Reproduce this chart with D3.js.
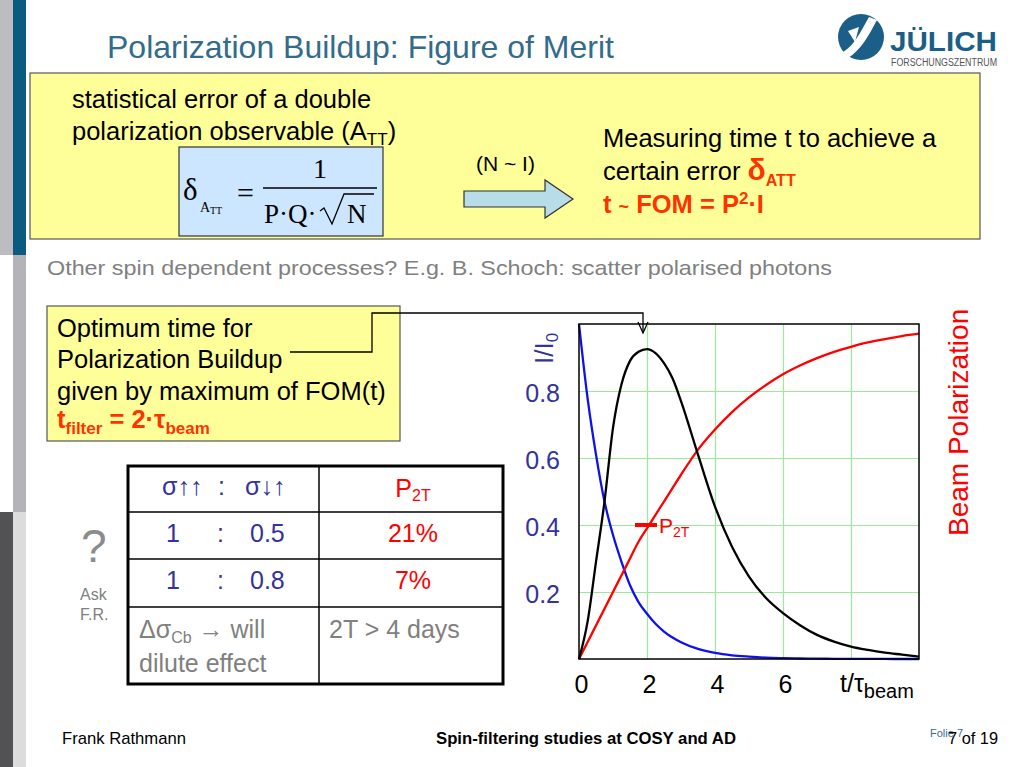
<!DOCTYPE html>
<html>
<head>
<meta charset="utf-8">
<script src="https://cdn.jsdelivr.net/npm/d3@7"></script>
<style>
body { margin: 0; background: #fff; }
text { font-family: "Liberation Sans", Arial, sans-serif; }
</style>
</head>
<body>
<div id="slide"></div>
<script>
// curve values (t in units of tau_beam)
var tVals = [0, 0.25, 0.5, 0.75, 1, 1.25, 1.5, 1.75, 2, 2.25, 2.5, 2.75, 3, 3.5, 4, 4.5, 5, 5.5, 6, 6.5, 7, 7.5, 8, 8.5, 9, 9.5, 10];
var intensity = [1, 0.78, 0.61, 0.47, 0.37, 0.29, 0.22, 0.17, 0.135, 0.105, 0.082, 0.064, 0.05, 0.03, 0.018, 0.011, 0.007, 0.004, 0.0025, 0.0015, 0.001, 0.0006, 0.0004, 0.0002, 0.0001, 0, 0];
var polarization = [0, 0.05, 0.10, 0.15, 0.20, 0.25, 0.30, 0.35, 0.39, 0.43, 0.47, 0.51, 0.55, 0.625, 0.685, 0.737, 0.781, 0.818, 0.85, 0.876, 0.898, 0.917, 0.932, 0.945, 0.955, 0.964, 0.971];
var fom = [0, 0.11, 0.29, 0.47, 0.69, 0.82, 0.89, 0.917, 0.925, 0.913, 0.883, 0.838, 0.77, 0.61, 0.455, 0.335, 0.246, 0.182, 0.137, 0.101, 0.072, 0.052, 0.037, 0.027, 0.019, 0.013, 0.007];

var xTickVals = [0, 2, 4, 6];
var yTickVals = [0.2, 0.4, 0.6, 0.8];
var xGridVals = [2, 4, 6, 8];

var markerT = 2;
var markerP = 0.4;

// table
var ratioLeft = ["1", "1"];
var ratioRight = ["0.5", "0.8"];
var p2tValues = ["21%", "7%"];

var svg = d3.select("#slide").append("svg").attr("width", 1023).attr("height", 767);

// side stripes
var stripes = [
    [0, 0, 13, 255, "#bdbdc1"], [13, 0, 13, 255, "#0b5a80"],
    [13, 255, 13, 257, "#b3b3b8"],
    [0, 512, 13, 255, "#525255"], [13, 512, 13, 255, "#dcdcdc"]
];
svg.selectAll("rect.stripe").data(stripes).enter().append("rect")
    .attr("class", "stripe")
    .attr("x", function (d) { return d[0]; })
    .attr("y", function (d) { return d[1]; })
    .attr("width", function (d) { return d[2]; })
    .attr("height", function (d) { return d[3]; })
    .attr("fill", function (d) { return d[4]; });

// title
svg.append("text").attr("x", 107).attr("y", 58).attr("font-size", 32).attr("fill", "#336b8a")
    .text("Polarization Buildup: Figure of Merit");

// logo
var logo = svg.append("g");
logo.append("circle").attr("cx", 861).attr("cy", 37).attr("r", 23).attr("fill", "#1b5e87");
logo.append("path").attr("d", "M843,52 C854,46 861,31 869,17 L877,20 C869,35 861,50 848,58 Z").attr("fill", "#fff");
logo.append("path").attr("d", "M848,31 L859,27 L855,42 Z").attr("fill", "#fff");
logo.append("text").attr("x", 890).attr("y", 51).attr("font-size", 28).attr("font-weight", "bold")
    .attr("fill", "#1b5e87").attr("textLength", 107).attr("lengthAdjust", "spacingAndGlyphs").text("JÜLICH");
logo.append("text").attr("x", 891).attr("y", 66).attr("font-size", 10).attr("fill", "#555")
    .attr("textLength", 106).attr("lengthAdjust", "spacingAndGlyphs").text("FORSCHUNGSZENTRUM");

// top yellow box
svg.append("rect").attr("x", 30).attr("y", 73).attr("width", 950).attr("height", 166)
    .attr("fill", "#ffff99").attr("stroke", "#555").attr("stroke-width", 1.2);

svg.append("text").attr("x", 72).attr("y", 108).attr("font-size", 25.5).text("statistical error of a double");
var l2 = svg.append("text").attr("x", 72).attr("y", 140).attr("font-size", 25.5);
l2.append("tspan").text("polarization observable (A");
l2.append("tspan").attr("font-size", 17).attr("dy", 5).text("TT");
l2.append("tspan").attr("dy", -5).text(")");

// formula box
svg.append("rect").attr("x", 179).attr("y", 147).attr("width", 204).attr("height", 89)
    .attr("fill", "#cce6ff").attr("stroke", "#333").attr("stroke-width", 1.2);
var serif = "'Liberation Serif', 'Times New Roman', serif";
svg.append("text").attr("x", 183).attr("y", 200).attr("font-size", 31).style("font-family", serif).text("δ");
svg.append("text").attr("x", 200).attr("y", 212).attr("font-size", 14).style("font-family", serif).text("A");
svg.append("text").attr("x", 210).attr("y", 214).attr("font-size", 10).style("font-family", serif).text("TT");
svg.append("text").attr("x", 237).attr("y", 203).attr("font-size", 30).style("font-family", serif).text("=");
svg.append("line").attr("x1", 263).attr("x2", 377).attr("y1", 188).attr("y2", 188).attr("stroke", "#000").attr("stroke-width", 1.5);
svg.append("text").attr("x", 320).attr("y", 178).attr("text-anchor", "middle").attr("font-size", 28).style("font-family", serif).text("1");
svg.append("text").attr("x", 264).attr("y", 223).attr("font-size", 27).style("font-family", serif).text("P·Q·");
svg.append("path").attr("d", "M320,211 L324,208 L332,224 L344,194 L374,194")
    .attr("fill", "none").attr("stroke", "#000").attr("stroke-width", 1.3);
svg.append("text").attr("x", 347).attr("y", 223).attr("font-size", 27).style("font-family", serif).text("N");

// (N ~ I) and block arrow
svg.append("text").attr("x", 476).attr("y", 171).attr("font-size", 21).text("(N ~ I)");
svg.append("polygon")
    .attr("points", "464,191 545,191 545,180 573,199 545,218 545,207 464,207")
    .attr("fill", "#b7dde8").attr("stroke", "#333").attr("stroke-width", 1.2);

svg.append("text").attr("x", 603).attr("y", 147).attr("font-size", 25.5).text("Measuring time t to achieve a");
var c2 = svg.append("text").attr("x", 603).attr("y", 180).attr("font-size", 25.5);
c2.append("tspan").text("certain error ");
c2.append("tspan").attr("fill", "#ff3300").attr("font-weight", "bold").attr("font-size", 30).text("δ");
c2.append("tspan").attr("fill", "#ff3300").attr("font-weight", "bold").attr("font-size", 16).attr("dy", 6).text("ATT");
var c3 = svg.append("text").attr("x", 603).attr("y", 213).attr("font-size", 25.5)
    .attr("fill", "#ff3300").attr("font-weight", "bold");
c3.append("tspan").text("t ");
c3.append("tspan").attr("font-size", 18).text("~");
c3.append("tspan").text(" FOM = P");
c3.append("tspan").attr("font-size", 17).attr("dy", -9).text("2");
c3.append("tspan").attr("dy", 9).text("·I");

// subtitle
svg.append("text").attr("x", 47).attr("y", 275).attr("font-size", 21).attr("fill", "#808080")
    .attr("textLength", 785).attr("lengthAdjust", "spacingAndGlyphs")
    .text("Other spin dependent processes?  E.g. B. Schoch: scatter polarised photons");

// second yellow box
svg.append("rect").attr("x", 47).attr("y", 306).attr("width", 353).attr("height", 135)
    .attr("fill", "#ffff99").attr("stroke", "#555").attr("stroke-width", 1.2);
svg.append("text").attr("x", 57).attr("y", 337).attr("font-size", 25.5).text("Optimum time for");
svg.append("text").attr("x", 57).attr("y", 368).attr("font-size", 25.5).text("Polarization Buildup");
svg.append("text").attr("x", 57).attr("y", 400).attr("font-size", 25.5).text("given by maximum of FOM(t)");
var tf = svg.append("text").attr("x", 57).attr("y", 428).attr("font-size", 25.5)
    .attr("fill", "#ff3300").attr("font-weight", "bold");
tf.append("tspan").text("t");
tf.append("tspan").attr("font-size", 17).attr("dy", 6).text("filter");
tf.append("tspan").attr("dy", -6).text(" = 2·τ");
tf.append("tspan").attr("font-size", 17).attr("dy", 6).text("beam");

// connector from box to curve maximum
svg.append("polyline").attr("points", "290,352 372,352 372,313 643,313 643,333")
    .attr("fill", "none").attr("stroke", "#000").attr("stroke-width", 1.3);
svg.append("polyline").attr("points", "638,322 643,333 648,322")
    .attr("fill", "none").attr("stroke", "#000").attr("stroke-width", 1.3);

// chart
var plotL = 579, plotR = 919, plotT = 324, plotB = 659;
var x = d3.scaleLinear().domain([0, 10]).range([plotL, plotR]);
var y = d3.scaleLinear().domain([0, 1]).range([plotB, plotT]);

var chart = svg.append("g");

chart.append("g")
    .attr("transform", "translate(0," + plotB + ")")
    .call(d3.axisBottom(x).tickValues(xGridVals).tickSize(-(plotB - plotT)).tickFormat(""))
    .call(function (g) { g.select(".domain").remove(); })
    .selectAll("line").attr("stroke", "#99ea99").attr("stroke-width", 1.2);
chart.append("g")
    .attr("transform", "translate(" + plotL + ",0)")
    .call(d3.axisLeft(y).tickValues(yTickVals).tickSize(-(plotR - plotL)).tickFormat(""))
    .call(function (g) { g.select(".domain").remove(); })
    .selectAll("line").attr("stroke", "#99ea99").attr("stroke-width", 1.2);

var series = [
    { vals: intensity, color: "#1010ee" },
    { vals: polarization, color: "#ff0000" },
    { vals: fom, color: "#000000" }
];
var line = d3.line()
    .x(function (d, i) { return x(tVals[i]); })
    .y(function (d) { return y(d); })
    .curve(d3.curveMonotoneX);
chart.selectAll("path.curve").data(series).enter().append("path")
    .attr("class", "curve")
    .attr("d", function (d) { return line(d.vals); })
    .attr("fill", "none")
    .attr("stroke", function (d) { return d.color; })
    .attr("stroke-width", 2.3);

chart.append("rect").attr("x", plotL).attr("y", plotT).attr("width", plotR - plotL).attr("height", plotB - plotT)
    .attr("fill", "none").attr("stroke", "#000").attr("stroke-width", 1.5);

// P2T marker
chart.append("line")
    .attr("x1", x(markerT) - 12).attr("x2", x(markerT) + 10)
    .attr("y1", y(markerP)).attr("y2", y(markerP))
    .attr("stroke", "#ff0000").attr("stroke-width", 4);
var pl = chart.append("text").attr("x", x(markerT) + 12).attr("y", y(markerP) + 8)
    .attr("font-size", 21).attr("fill", "#ff0000");
pl.append("tspan").text("P");
pl.append("tspan").attr("font-size", 14).attr("dy", 4).text("2T");

// tick labels
var yAx = chart.append("g")
    .attr("transform", "translate(" + plotL + ",0)")
    .call(d3.axisLeft(y).tickValues(yTickVals).tickSize(0).tickPadding(19));
yAx.select(".domain").remove();
yAx.selectAll("text").attr("font-size", 25).attr("fill", "#333399").attr("dy", "0.42em");

var xAx = chart.append("g")
    .attr("transform", "translate(0," + plotB + ")")
    .call(d3.axisBottom(x).tickValues(xTickVals).tickSize(0).tickPadding(16));
xAx.select(".domain").remove();
xAx.selectAll("text").attr("font-size", 25).attr("fill", "#000").attr("dx", 2);

var yl = chart.append("text").attr("transform", "translate(553,364) rotate(-90)")
    .attr("font-size", 26).attr("fill", "#333399");
yl.append("tspan").text("I/I");
yl.append("tspan").attr("font-size", 17).attr("dy", 5).text("0");

var xl = chart.append("text").attr("x", 840).attr("y", 692).attr("font-size", 25);
xl.append("tspan").text("t/τ");
xl.append("tspan").attr("font-size", 20).attr("dy", 6).text("beam");

chart.append("text").attr("transform", "translate(968,536) rotate(-90)")
    .attr("font-size", 28).attr("fill", "#ff0000").text("Beam Polarization");

// table
var table = svg.append("g");
[512, 559, 607].forEach(function (yy) {
    table.append("line").attr("x1", 128).attr("x2", 503).attr("y1", yy).attr("y2", yy)
        .attr("stroke", "#000").attr("stroke-width", 1.5);
});
table.append("line").attr("x1", 319).attr("x2", 319).attr("y1", 466).attr("y2", 684)
    .attr("stroke", "#000").attr("stroke-width", 1.5);
table.append("rect").attr("x", 128).attr("y", 466).attr("width", 375).attr("height", 218)
    .attr("fill", "none").attr("stroke", "#000").attr("stroke-width", 3);

var navy = "#333399";
table.append("text").attr("x", 162).attr("y", 495).attr("font-size", 25).attr("fill", navy).text("σ↑↑");
table.append("text").attr("x", 218).attr("y", 495).attr("font-size", 25).attr("fill", navy).text(":");
table.append("text").attr("x", 245).attr("y", 495).attr("font-size", 25).attr("fill", navy).text("σ↓↑");
var ph = table.append("text").attr("x", 413).attr("y", 497).attr("text-anchor", "middle")
    .attr("font-size", 25).attr("fill", "#ff0000");
ph.append("tspan").text("P");
ph.append("tspan").attr("font-size", 16).attr("dy", 4).text("2T");

var rowY = [542, 589];
ratioLeft.forEach(function (v, i) {
    table.append("text").attr("x", 166).attr("y", rowY[i]).attr("font-size", 25).attr("fill", navy).text(v);
    table.append("text").attr("x", 217).attr("y", rowY[i]).attr("font-size", 25).attr("fill", navy).text(":");
    table.append("text").attr("x", 250).attr("y", rowY[i]).attr("font-size", 25).attr("fill", navy).text(ratioRight[i]);
    table.append("text").attr("x", 413).attr("y", rowY[i]).attr("text-anchor", "middle")
        .attr("font-size", 25).attr("fill", "#ff0000").text(p2tValues[i]);
});

var grey = "#808080";
var d1 = table.append("text").attr("x", 139).attr("y", 638).attr("font-size", 25).attr("fill", grey);
d1.append("tspan").text("Δσ");
d1.append("tspan").attr("font-size", 16).attr("dy", 5).text("Cb");
d1.append("tspan").attr("dy", -5).text(" → will");
table.append("text").attr("x", 139).attr("y", 672).attr("font-size", 25).attr("fill", grey).text("dilute effect");
table.append("text").attr("x", 329).attr("y", 638).attr("font-size", 25).attr("fill", grey).text("2T > 4 days");

svg.append("text").attr("x", 81).attr("y", 562).attr("font-size", 46).attr("fill", "#8c8c8c").text("?");
svg.append("text").attr("x", 80).attr("y", 600).attr("font-size", 16).attr("fill", grey).text("Ask");
svg.append("text").attr("x", 80).attr("y", 620).attr("font-size", 16).attr("fill", grey).text("F.R.");

// footer
var narrow = "'Liberation Sans Narrow', 'Liberation Sans', Arial, sans-serif";
svg.append("text").attr("x", 62).attr("y", 744).attr("font-size", 17).style("font-family", narrow)
    .attr("textLength", 124).attr("lengthAdjust", "spacingAndGlyphs").text("Frank Rathmann");
svg.append("text").attr("x", 436).attr("y", 744).attr("font-size", 17).attr("font-weight", "bold").style("font-family", narrow)
    .attr("textLength", 300).attr("lengthAdjust", "spacingAndGlyphs").text("Spin-filtering studies at COSY and AD");
svg.append("text").attr("x", 930).attr("y", 737).attr("font-size", 11).attr("fill", "#336b9a").text("Folie 7");
svg.append("text").attr("x", 948).attr("y", 744).attr("font-size", 17).style("font-family", narrow)
    .attr("textLength", 50).attr("lengthAdjust", "spacingAndGlyphs").text("7 of 19");
</script>
</body>
</html>
